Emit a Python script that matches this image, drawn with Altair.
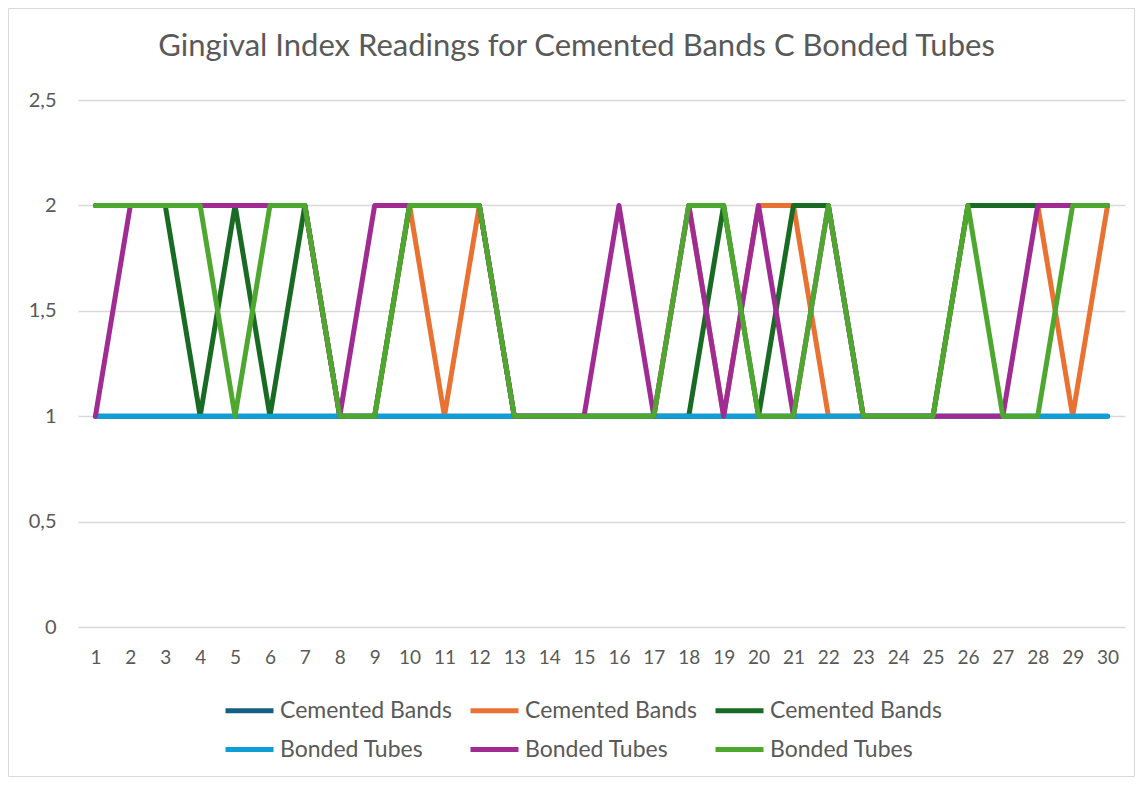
import altair as alt
import pandas as pd

days = list(range(1, 31))

cemented_1 = [1] * 30
cemented_2 = [2, 2, 2, 2, 2, 2, 2, 1, 1, 2, 1, 2, 1, 1, 1, 1, 1, 2, 1, 2, 2, 1, 1, 1, 1, 2, 2, 2, 1, 2]
cemented_3 = [2, 2, 2, 1, 2, 1, 2, 1, 1, 2, 2, 2, 1, 1, 1, 1, 1, 1, 2, 1, 2, 2, 1, 1, 1, 2, 2, 2, 2, 2]
bonded_1 = [1] * 30
bonded_2 = [1, 2, 2, 2, 2, 2, 2, 1, 2, 2, 2, 2, 1, 1, 1, 2, 1, 2, 1, 2, 1, 2, 1, 1, 1, 1, 1, 2, 2, 2]
bonded_3 = [2, 2, 2, 2, 1, 2, 2, 1, 1, 2, 2, 2, 1, 1, 1, 1, 1, 2, 2, 1, 1, 2, 1, 1, 1, 2, 1, 1, 2, 2]

series_keys = ["s1", "s2", "s3", "s4", "s5", "s6"]
series_names = ["Cemented Bands", "Cemented Bands", "Cemented Bands",
                "Bonded Tubes", "Bonded Tubes", "Bonded Tubes"]
series_values = [cemented_1, cemented_2, cemented_3, bonded_1, bonded_2, bonded_3]
colors = ["#156082", "#E97132", "#196B24", "#0F9ED5", "#A02B93", "#4EA72E"]
y_ticks = [0, 0.5, 1, 1.5, 2, 2.5]

rows = []
for key, vals in zip(series_keys, series_values):
    for d, v in zip(days, vals):
        rows.append({"day": d, "value": v, "series": key})
df = pd.DataFrame(rows)

FONT = "Lato"
TXT = "#595959"

label_expr = " : ".join(
    f"datum.value == '{k}' ? '{n}'" for k, n in zip(series_keys, series_names)
) + " : ''"

lines = alt.Chart(df).mark_line(strokeWidth=5, strokeJoin="round", strokeCap="round").encode(
    x=alt.X("day:O", sort=days,
            scale=alt.Scale(type="point", padding=0.5),
            axis=alt.Axis(title=None, labelAngle=0, domain=False, ticks=False, grid=False,
                          labelFont=FONT, labelFontSize=19, labelColor=TXT, labelPadding=21)),
    y=alt.Y("value:Q",
            scale=alt.Scale(domain=[0, 2.5], nice=False, zero=True),
            axis=alt.Axis(title=None, values=y_ticks, domain=False, ticks=False, grid=True,
                          gridColor="#d9d9d9", gridWidth=1.3,
                          labelExpr="replace(toString(datum.value), '.', ',')",
                          labelFont=FONT, labelFontSize=20, labelColor=TXT, labelPadding=22)),
    color=alt.Color("series:N",
                    scale=alt.Scale(domain=series_keys, range=colors),
                    legend=alt.Legend(title=None, orient="none", legendX=145, legendY=584,
                                      direction="horizontal", columns=3,
                                      symbolType="stroke", symbolSize=2304, symbolStrokeWidth=5,
                                      labelExpr=label_expr, labelFont=FONT, labelFontSize=23,
                                      labelColor=TXT, labelOffset=4, columnPadding=8,
                                      rowPadding=-10, labelLimit=300)),
)

frame = alt.Chart(alt.Data(values=[{}])).mark_rect(filled=False, stroke="#d9d9d9", strokeWidth=1).encode(
    x=alt.value(-69.5), x2=alt.value(1056.5), y=alt.value(-91.5), y2=alt.value(676.5)
)

chart = alt.layer(frame, lines).properties(
    width=1047,
    height=527,
    title=alt.TitleParams(
        "Gingival Index Readings for Cemented Bands C Bonded Tubes",
        anchor="middle", frame="group", dx=-25, offset=-79, baseline="alphabetic",
        font=FONT, fontSize=31, fontWeight="normal", color=TXT,
    ),
    autosize=alt.AutoSizeParams(type="none"),
    padding={"left": 70, "top": 92, "right": 10, "bottom": 150},
).configure_view(stroke=None)

chart.save("out.html", embed_options={"renderer": "svg", "actions": False})
